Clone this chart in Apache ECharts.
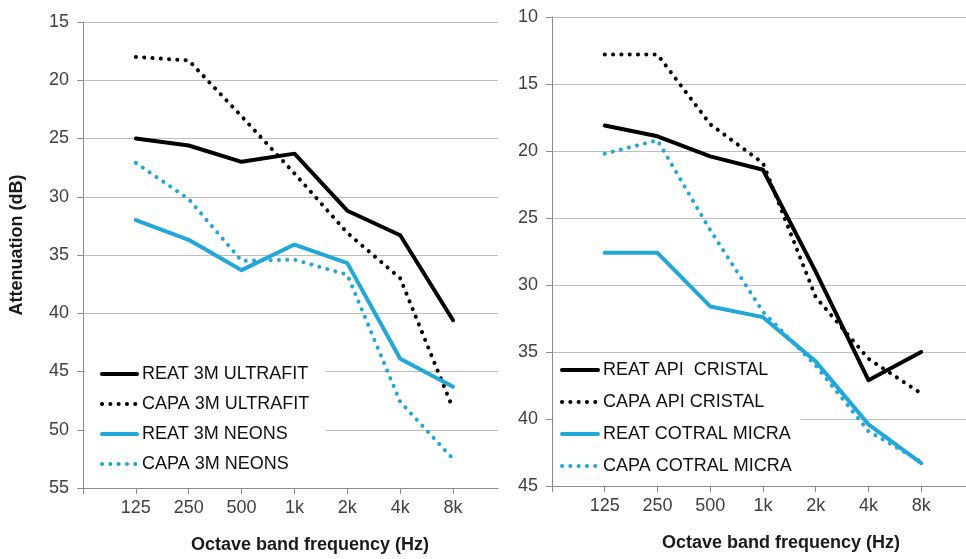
<!DOCTYPE html>
<html>
<head>
<meta charset="utf-8">
<script src="https://cdn.jsdelivr.net/npm/echarts@6/dist/echarts.min.js"></script>
<style>
html,body{margin:0;padding:0;background:#fff;}
#chart{width:966px;height:559px;}
</style>
</head>
<body>
<div id="chart"></div>
<script>
// Octave band categories
var categories = ['125', '250', '500', '1k', '2k', '4k', '8k'];

// Left panel (3M) – attenuation in dB
var reat3mUltrafit = [25.0, 25.6, 27.0, 26.3, 31.2, 33.3, 40.6];
var capa3mUltrafit = [18.0, 18.3, 23.1, 28.0, 33.1, 37.0, 48.2];
var reat3mNeons    = [32.0, 33.7, 36.3, 34.1, 35.7, 43.9, 46.3];
var capa3mNeons    = [27.1, 30.2, 35.5, 35.4, 36.7, 47.6, 52.5];

// Right panel (API / COTRAL)
var reatApiCristal  = [18.1, 18.9, 20.4, 21.4, 29.0, 37.1, 35.0];
var capaApiCristal  = [12.8, 12.8, 18.0, 20.9, 30.9, 35.5, 38.1];
var reatCotralMicra = [27.6, 27.6, 31.6, 32.4, 35.7, 40.4, 43.3];
var capaCotralMicra = [20.2, 19.2, 25.9, 32.0, 36.0, 40.9, 43.2];

// Y tick ranges
var leftYTicks = [15, 20, 25, 30, 35, 40, 45, 50, 55];
var rightYTicks = [10, 15, 20, 25, 30, 35, 40, 45];

var FONT = 'Liberation Sans, Arial, sans-serif';
var BLACK = '#000000';
var CYAN = '#22a7d9';
var LABEL = '#404040';

function pts(vals) {
  return vals.map(function (v, i) { return [i + 1, v]; });
}

var tickIdx = [0].concat(categories.map(function (c, i) { return i + 1; }));
var labelIdx = categories.map(function (c, i) { return i + 1; });

function xAxisCfg(gridIndex) {
  return {
    type: 'value', gridIndex: gridIndex, min: 0, max: 7.85, interval: 1,
    axisLine: { onZero: false, lineStyle: { color: '#8c8c8c', width: 1 } },
    axisTick: { show: true, length: 6, customValues: tickIdx, lineStyle: { color: '#8c8c8c' } },
    axisLabel: {
      customValues: labelIdx, margin: 11, color: LABEL, fontSize: 18, fontFamily: FONT,
      formatter: function (v) { var i = Math.round(v) - 1; return categories[i] || ''; }
    },
    splitLine: { show: false }
  };
}

function yAxisCfg(gridIndex, ticks) {
  return {
    type: 'value', gridIndex: gridIndex, inverse: true,
    min: ticks[0], max: ticks[ticks.length - 1], interval: 5,
    axisLine: { show: true, onZero: false, lineStyle: { color: '#8c8c8c', width: 1 } },
    axisTick: { show: true, length: 6, lineStyle: { color: '#8c8c8c' } },
    axisLabel: { margin: 14, color: LABEL, fontSize: 18, fontFamily: FONT },
    splitLine: { show: true, lineStyle: { color: '#bfbfbf', width: 1 } }
  };
}

function solid(name, data, color, xi) {
  return {
    name: name, type: 'line', xAxisIndex: xi, yAxisIndex: xi, data: pts(data),
    symbol: 'none', smooth: false, silent: true,
    lineStyle: { color: color, width: 4, type: 'solid', cap: 'round', join: 'round' },
    itemStyle: { color: color }
  };
}
function dotted(name, data, color, xi) {
  return {
    name: name, type: 'line', xAxisIndex: xi, yAxisIndex: xi, data: pts(data),
    symbol: 'none', smooth: false, silent: true,
    lineStyle: { color: color, width: 4, type: [0.1, 8.2], cap: 'round', join: 'round' },
    itemStyle: { color: color }
  };
}

var legendCommon = {
  orient: 'vertical', backgroundColor: '#ffffff', itemHeight: 18,
  selectedMode: false,
  itemStyle: { opacity: 0 },
  lineStyle: { width: 4 },
  textStyle: { fontSize: 18, lineHeight: 18, color: '#111111', fontFamily: FONT }
};

var chart = echarts.init(document.getElementById('chart'), null, { renderer: 'canvas' });
chart.setOption({
  animation: false,
  backgroundColor: '#ffffff',
  textStyle: { fontFamily: FONT },
  grid: [
    { left: 83, top: 22, width: 415, height: 466, containLabel: false },
    { left: 552, top: 17, width: 414, height: 469, containLabel: false }
  ],
  xAxis: [xAxisCfg(0), xAxisCfg(1)],
  yAxis: [yAxisCfg(0, leftYTicks), yAxisCfg(1, rightYTicks)],
  legend: [
    Object.assign({}, legendCommon, {
      left: 85, top: 355, padding: [10, 16, 10, 15], itemWidth: 35, itemGap: 12,
      data: ['REAT 3M ULTRAFIT', 'CAPA 3M ULTRAFIT', 'REAT 3M NEONS', 'CAPA 3M NEONS']
    }),
    Object.assign({}, legendCommon, {
      left: 554, top: 357, padding: [4, 9, 4, 6], itemWidth: 36, itemGap: 14,
      data: ['REAT API  CRISTAL', 'CAPA API CRISTAL', 'REAT COTRAL MICRA', 'CAPA COTRAL MICRA']
    })
  ],
  graphic: [
    {
      type: 'text', x: 17, y: 245, rotation: Math.PI / 2,
      style: { text: 'Attenuation (dB)', font: 'bold 18px ' + FONT, fill: '#1a1a1a', align: 'center', verticalAlign: 'middle' }
    },
    {
      type: 'text', x: 310, y: 545,
      style: { text: 'Octave band frequency (Hz)', font: 'bold 18px ' + FONT, fill: '#1a1a1a', align: 'center', verticalAlign: 'middle' }
    },
    {
      type: 'text', x: 781, y: 543,
      style: { text: 'Octave band frequency (Hz)', font: 'bold 18px ' + FONT, fill: '#1a1a1a', align: 'center', verticalAlign: 'middle' }
    }
  ],
  series: [
    solid('REAT 3M ULTRAFIT', reat3mUltrafit, BLACK, 0),
    dotted('CAPA 3M ULTRAFIT', capa3mUltrafit, BLACK, 0),
    solid('REAT 3M NEONS', reat3mNeons, CYAN, 0),
    dotted('CAPA 3M NEONS', capa3mNeons, CYAN, 0),
    solid('REAT API  CRISTAL', reatApiCristal, BLACK, 1),
    dotted('CAPA API CRISTAL', capaApiCristal, BLACK, 1),
    solid('REAT COTRAL MICRA', reatCotralMicra, CYAN, 1),
    dotted('CAPA COTRAL MICRA', capaCotralMicra, CYAN, 1)
  ]
});
</script>
</body>
</html>
